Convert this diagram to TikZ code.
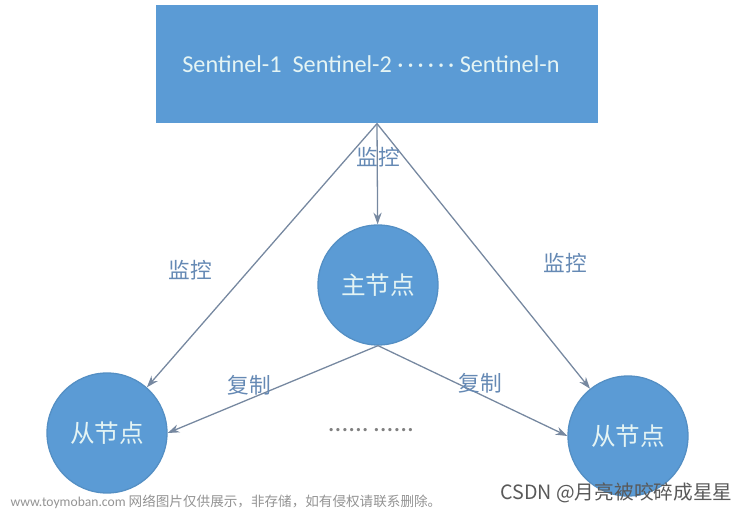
\documentclass[tikz,border=0pt]{standalone}
\usepackage{fontspec}
\setmainfont{Carlito}
\newfontfamily\cjk{Noto Sans CJK SC}
\usepackage{xcolor}
\usetikzlibrary{arrows.meta, positioning}
\definecolor{nodeblue}{HTML}{5B9BD5}
\definecolor{linegray}{HTML}{7688A0}
\definecolor{labelblue}{HTML}{6589B4}
\definecolor{textwhite}{HTML}{E4F4F4}

\begin{document}
\begin{tikzpicture}[x=0.03cm,y=-0.03cm,>={Stealth[length=10pt,width=7pt]},
                    line width=1.1pt,
                    main node/.style={circle,fill=nodeblue,draw=nodeblue!92!black,minimum size=3.6cm,inner sep=0pt,text=textwhite,font=\cjk\fontsize{21}{21}\selectfont},
                    sentinel box/.style={rectangle,fill=nodeblue,minimum width=13.26cm,minimum height=3.54cm},
                    sentinel text/.style={text=textwhite,font=\fontsize{20.7}{20.7}\selectfont},
                    edge label/.style={text=labelblue,font=\cjk\fontsize{18.5}{18.5}\selectfont}]

  \useasboundingbox (0,0) rectangle (751,514);

  \node[sentinel box] (S) at (377,64) {};
  \node[sentinel text] (names) at (371,64) {Sentinel-1\ \ Sentinel-2 ·\,·\,·\,·\,·\,· Sentinel-n};

  \node[main node] (M) at (378,285) {主节点};
  \node[main node] (L) at (107,433) {从节点};
  \node[main node] (R) at (628,436) {从节点};

  \path[->,linegray]
    (S.south) edge (M)
              edge (L)
              edge (R)
    (M.south) edge (L.east)
              edge (R.west);

  \node[edge label] (mon1) at (378,157) {监控};
  \node[edge label] (mon2) at (190,270) {监控};
  \node[edge label] (mon3) at (565,263) {监控};
  \node[edge label] (rep1) at (249,385) {复制};
  \node[edge label] (rep2) at (480,383) {复制};

  \node[text=gray,font=\fontsize{23}{23}\selectfont] (dots) at (371,430) {......\,......};

  \node[anchor=west,text=gray!85,font=\fontsize{11.6}{11.6}\selectfont] (wm) at (6,502) {www.toymoban.com {\cjk 网络图片仅供展示，非存储，如有侵权请联系删除。}};
  \node[anchor=east,text=gray!70!black,font=\cjk\fontsize{16.8}{16.8}\selectfont] (csdn) at (737,493) {CSDN @月亮被咬碎成星星};
\end{tikzpicture}
\end{document}
